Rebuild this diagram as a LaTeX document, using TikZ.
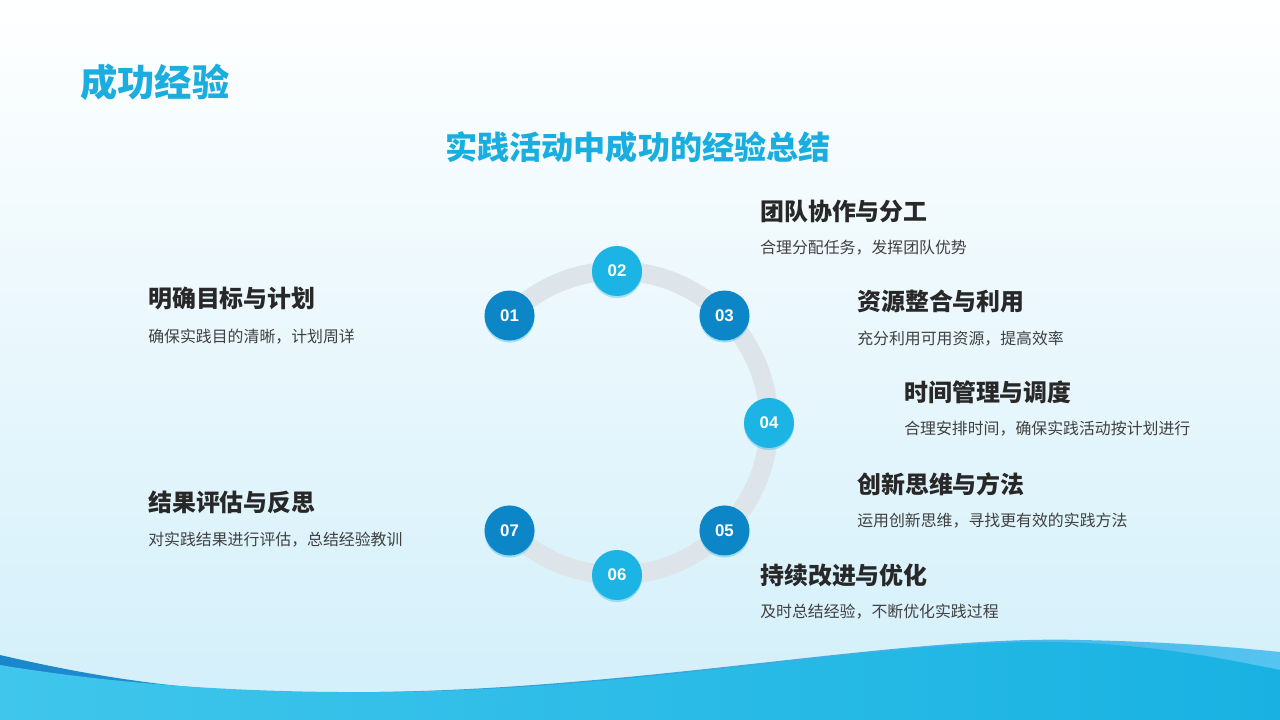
\documentclass[tikz,border=0pt]{standalone}
\usepackage{fontspec}
\setmainfont{Noto Sans CJK SC}
\newfontfamily\numfont{Liberation Sans}
\usetikzlibrary{shadows,backgrounds}
\definecolor{titlecyan}{RGB}{26,174,224}
\definecolor{darkdot}{RGB}{12,134,198}
\definecolor{lightdot}{RGB}{28,180,228}
\definecolor{ringgray}{RGB}{222,229,234}
\definecolor{headtext}{RGB}{40,40,40}
\definecolor{bodytext}{RGB}{64,64,64}
\definecolor{bgblue}{RGB}{210,239,250}
\begin{document}
\begin{tikzpicture}[x=0.025cm, y=0.025cm,
    dot/.style={circle, inner sep=0pt, minimum size=1.25cm, text=white,
      font=\numfont\bfseries\fontsize{12}{14}\selectfont,
      drop shadow={shadow xshift=0pt, shadow yshift=-1.5pt, opacity=0.35, fill=lightdot}},
    ring/.style={ringgray, line width=13.5pt},
    head/.style={anchor=west, inner sep=0pt, text=headtext, font=\bfseries\fontsize{17}{20}\selectfont},
    body/.style={anchor=west, inner sep=0pt, text=bodytext, font=\fontsize{11.3}{13}\selectfont}]
  \useasboundingbox (0,0) rectangle (1280,720);
  % titles
  \node[anchor=west, inner sep=0pt, text=titlecyan, font=\bfseries\fontsize{26.5}{30}\selectfont] (title) at (80,638) {成功经验};
  \node[inner sep=0pt, text=titlecyan, font=\bfseries\fontsize{22.8}{27}\selectfont] (subtitle) at (638,573) {实践活动中成功的经验总结};
  % steps round the ring
  \coordinate (C) at (617,297);
  \node[dot, fill=darkdot] (A1) at ([shift={(135:152)}]C) {01};
  \node[dot, fill=lightdot] (A2) at ([shift={(90:152)}]C) {02};
  \node[dot, fill=darkdot] (A3) at ([shift={(45:152)}]C) {03};
  \node[dot, fill=lightdot] (A4) at ([shift={(0:152)}]C) {04};
  \node[dot, fill=darkdot] (A5) at ([shift={(-45:152)}]C) {05};
  \node[dot, fill=lightdot] (A6) at ([shift={(-90:152)}]C) {06};
  \node[dot, fill=darkdot] (A7) at ([shift={(-135:152)}]C) {07};
  % labels
  \node[head] (H1) at (148,421) {明确目标与计划};
  \node[body] (B1) at (148,383) {确保实践目的清晰，计划周详};
  \node[head] (H2) at (760,509) {团队协作与分工};
  \node[body] (B2) at (760,472) {合理分配任务，发挥团队优势};
  \node[head] (H3) at (857,419) {资源整合与利用};
  \node[body] (B3) at (857,381) {充分利用可用资源，提高效率};
  \node[head] (H4) at (904,328) {时间管理与调度};
  \node[body] (B4) at (904,291) {合理安排时间，确保实践活动按计划进行};
  \node[head] (H5) at (857,236) {创新思维与方法};
  \node[body] (B5) at (857,199) {运用创新思维，寻找更有效的实践方法};
  \node[head] (H6) at (760,145) {持续改进与优化};
  \node[body] (B6) at (760,108) {及时总结经验，不断优化实践过程};
  \node[head] (H7) at (148,218) {结果评估与反思};
  \node[body] (B7) at (148,180) {对实践结果进行评估，总结经验教训};
  \begin{pgfonlayer}{background}
    % background and waves
    \shade[top color=white, middle color=white!55!bgblue, bottom color=bgblue] (0,0) rectangle (1280,720);
    \shade[left color={rgb,255:red,26;green,134;blue,204}, right color={rgb,255:red,86;green,196;blue,240}]
      (0,65) .. controls (150,30) and (250,25) .. (380,28) .. controls (650,32) and (900,85) .. (1080,80)
      .. controls (1180,78) and (1240,72) .. (1280,68) -- (1280,0) -- (0,0) -- cycle;
    \shade[left color={rgb,255:red,64;green,198;blue,236}, right color={rgb,255:red,24;green,178;blue,226}]
      (0,55) .. controls (120,35) and (250,27) .. (380,28) .. controls (650,30) and (880,80) .. (1050,78)
      .. controls (1150,77) and (1230,60) .. (1280,50) -- (1280,0) -- (0,0) -- cycle;
    % ring
    \draw[ring] (A1.center) arc (135:90:152);
    \draw[ring] (A2.center) arc (90:45:152);
    \draw[ring] (A3.center) arc (45:0:152);
    \draw[ring] (A4.center) arc (0:-45:152);
    \draw[ring] (A5.center) arc (-45:-90:152);
    \draw[ring] (A6.center) arc (-90:-135:152);
  \end{pgfonlayer}
\end{tikzpicture}
\end{document}
